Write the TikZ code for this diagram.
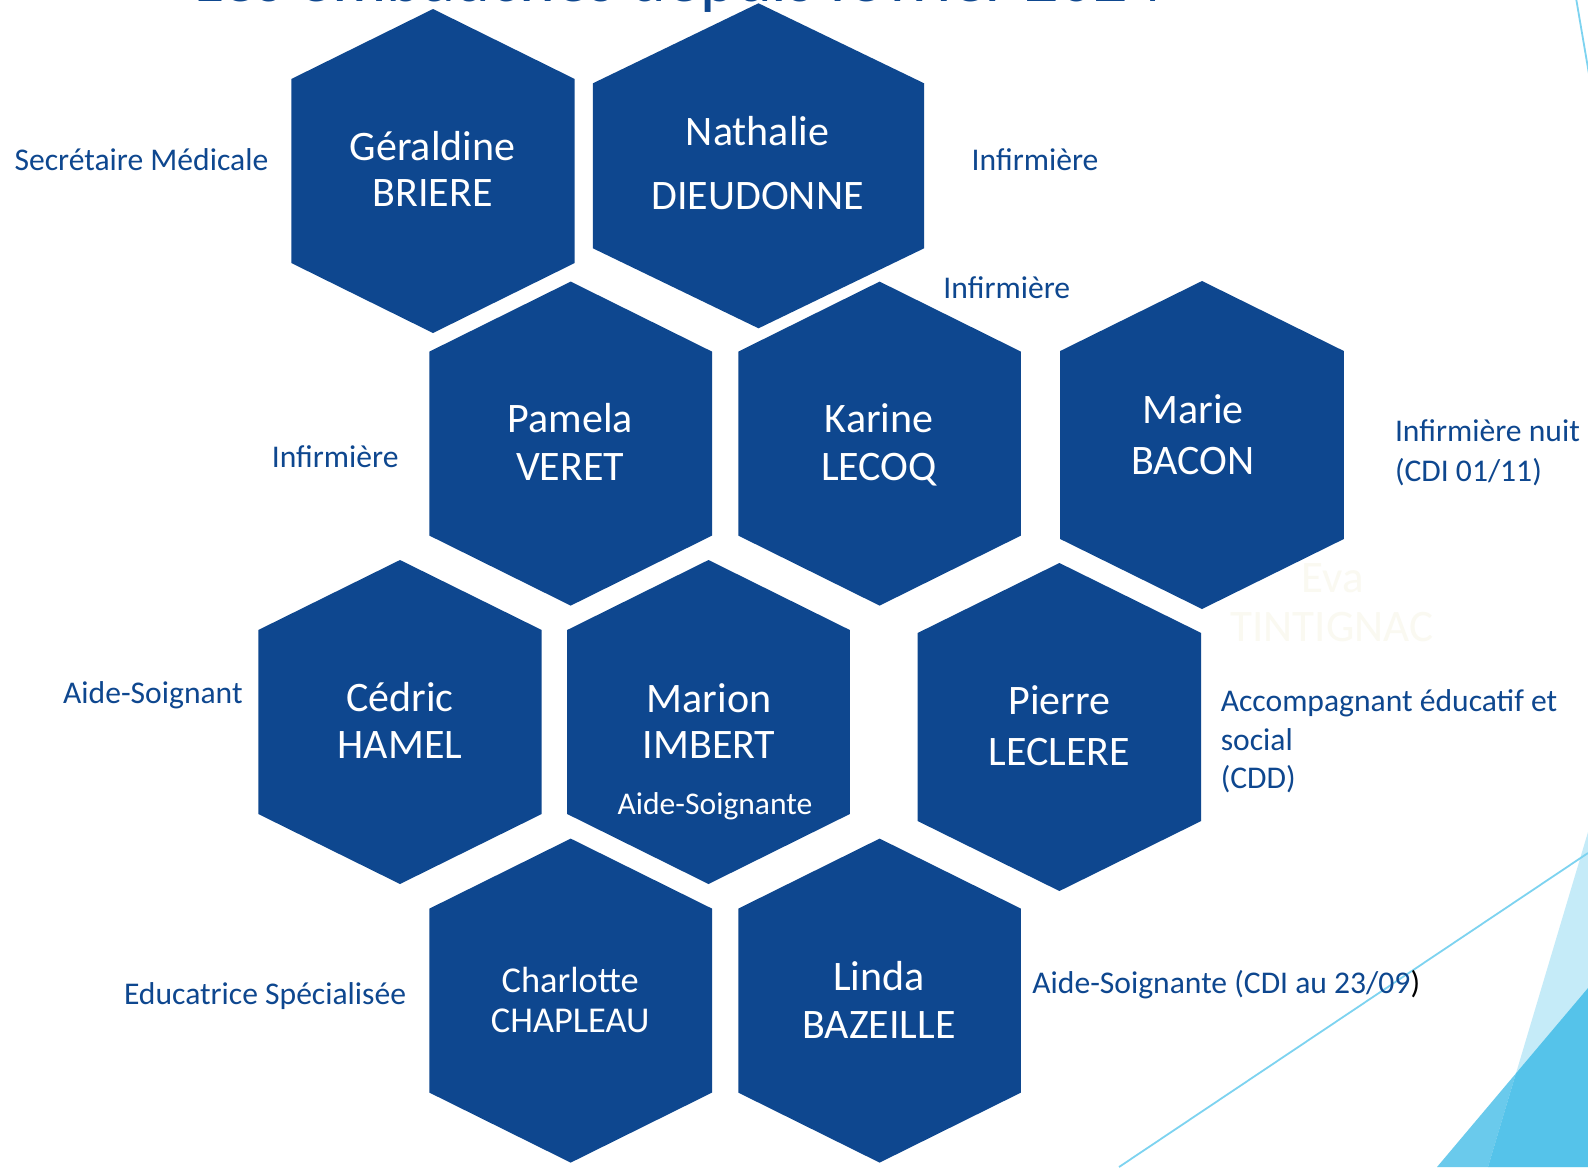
\documentclass[tikz,border=0pt]{standalone}
\usepackage{fontspec}
\setmainfont{Carlito}
\definecolor{hexblue}{RGB}{14,71,143}
\definecolor{lightcyan}{RGB}{197,235,248}
\definecolor{midcyan}{RGB}{106,202,236}
\definecolor{deepcyan}{RGB}{85,195,234}
\definecolor{linecyan}{RGB}{125,211,240}
\definecolor{ghost}{RGB}{250,249,241}
\newcommand{\drawhex}[6]{% name, cx, cy, half width, half height, drop
  \fill[hexblue] (#2,#3-#5) -- (#2+#4,#3-#5+#6) -- (#2+#4,#3+#5-#6) -- (#2,#3+#5)
    -- (#2-#4,#3+#5-#6) -- (#2-#4,#3-#5+#6) -- cycle;
  \coordinate (#1) at (#2,#3);
}
\tikzset{
  hexname/.style={text=white, font=\fontsize{21}{25}\selectfont, anchor=base, inner sep=0pt},
  hexsmall/.style={text=white, font=\fontsize{18.2}{22}\selectfont, anchor=base, inner sep=0pt},
  hexrole/.style={text=white, font=\fontsize{15.8}{19}\selectfont, anchor=base, inner sep=0pt},
  role/.style={text=hexblue, font=\fontsize{15.8}{19}\selectfont, anchor=base west, inner sep=0pt},
  ghosttext/.style={text=ghost, font=\fontsize{22.5}{27}\selectfont, anchor=base, inner sep=0pt},
  titletext/.style={text=hexblue, font=\fontsize{34}{40}\selectfont, anchor=base, inner sep=0pt},
  deco/.style={draw=linecyan, line width=0.9pt},
}
\begin{document}
\begin{tikzpicture}[x=0.5pt,y=-0.5pt]
\useasboundingbox (0,0) rectangle (1588,1167);
\clip (0,0) rectangle (1588,1167);
\fill[white] (0,0) rectangle (1588,1167);

% background decorations
\fill[lightcyan] (1488,1167) -- (1588,832) -- (1588,1167) -- cycle;
\fill[midcyan] (1437,1167) -- (1515.9,1073.4) -- (1488,1167) -- cycle;
\fill[deepcyan] (1488,1167) -- (1515.9,1073.4) -- (1588,988) -- (1588,1167) -- cycle;
\coordinate (d1a) at (1119,1167);
\coordinate (d1b) at (1588,853);
\draw[deco] (d1a) -- (d1b);
\coordinate (d2a) at (1576,-2);
\coordinate (d2b) at (1590,80);
\draw[deco] (d2a) -- (d2b);

% cut title
\node[titletext] (title) at (678.5,2) {Les embauches depuis février 2024};

% hexagons
\drawhex{geraldine}{433}{171}{141.7}{162}{70}
\drawhex{nathalie}{758.5}{165.8}{165.6}{162.5}{80}
\drawhex{pamela}{570.7}{443.6}{141.3}{162}{70}
\drawhex{karine}{879.6}{443.6}{141.3}{162}{70}
\drawhex{marie}{1202}{445}{141.8}{164}{70}
\drawhex{cedric}{400}{722}{141.7}{162}{70}
\drawhex{marion}{708.5}{722}{141.3}{162}{70}
\drawhex{pierre}{1059.4}{727}{141.8}{164}{70}
\drawhex{charlotte}{570.7}{1000.6}{141.3}{162}{70}
\drawhex{linda}{879.6}{1000.6}{141.3}{162}{70}

% names
\node[hexname] (geraldine1) at (432.5,160) {Géraldine};
\node[hexname] (geraldine2) at (432.5,206.7) {BRIERE};
\node[hexname] (nathalie1) at (757.6,145) {Nathalie};
\node[hexname] (nathalie2) at (757.6,209.5) {DIEUDONNE};
\node[hexname] (pamela1) at (570.2,432.8) {Pamela};
\node[hexname] (pamela2) at (570.2,480.4) {VERET};
\node[hexname] (karine1) at (879.1,432.8) {Karine};
\node[hexname] (karine2) at (879.1,480.4) {LECOQ};
\node[hexname] (marie1) at (1193,423.7) {Marie};
\node[hexname] (marie2) at (1193,474.3) {BACON};
\node[hexname] (cedric1) at (400,711.3) {Cédric};
\node[hexname] (cedric2) at (400,758.9) {HAMEL};
\node[hexname] (marion1) at (709,712.3) {Marion};
\node[hexname] (marion2) at (709,758.9) {IMBERT};
\node[hexrole] (marion3) at (715,814.2) {Aide-Soignante};
\node[hexname] (pierre1) at (1059.4,714.4) {Pierre};
\node[hexname] (pierre2) at (1059.4,765) {LECLERE};
\node[hexsmall] (charlotte1) at (570.2,992) {Charlotte};
\node[hexsmall] (charlotte2) at (570.2,1032.5) {CHAPLEAU};
\node[hexname] (linda1) at (879.1,990.9) {Linda};
\node[hexname] (linda2) at (879.1,1038.5) {BAZEILLE};

% roles
\node[role] (r-geraldine) at (14.2,170) {Secrétaire Médicale};
\node[role] (r-nathalie) at (971.3,170) {Infirmière};
\node[role] (r-karine) at (943,298.6) {Infirmière};
\node[role] (r-pamela) at (271.4,467.8) {Infirmière};
\node[role] (r-marie1) at (1394.6,441.5) {Infirmière nuit};
\node[role] (r-marie2) at (1394.6,481) {(CDI 01/11)};
\node[role] (r-cedric) at (62.8,703.8) {Aide-Soignant};
\node[role] (r-pierre1) at (1220.4,711.9) {Accompagnant éducatif et};
\node[role] (r-pierre2) at (1220.4,750.4) {social};
\node[role] (r-pierre3) at (1220.4,788.8) {(CDD)};
\node[role] (r-charlotte) at (123.6,1004.6) {Educatrice Spécialisée};
\node[role] (r-linda) at (1032,993.4) {Aide-Soignante (CDI au 23/09\textcolor{black}{)}};

% faint text
\node[ghosttext] (eva1) at (1333,592.7) {Eva};
\node[ghosttext] (eva2) at (1332,641.7) {TINTIGNAC};
\end{tikzpicture}
\end{document}
